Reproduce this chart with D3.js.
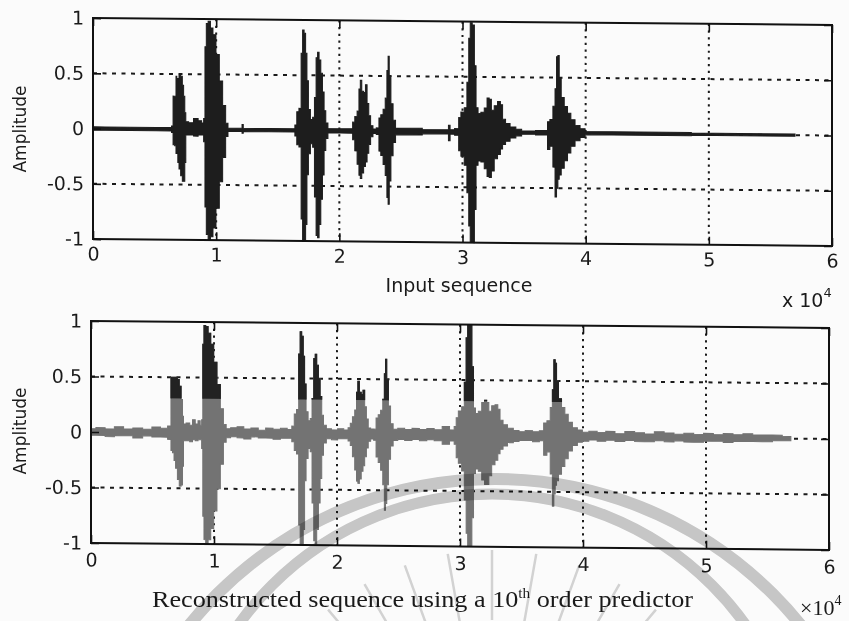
<!DOCTYPE html>
<html>
<head>
<meta charset="utf-8">
<script src="https://cdn.jsdelivr.net/npm/d3@7"></script>
<style>
  html, body { margin: 0; padding: 0; background: #fbfbfb; }
  svg { display: block; }
</style>
</head>
<body>
<svg id="chart" width="849" height="621"></svg>
<script>
// Input speech signal: envelope per sample index (upper / lower amplitude)
const inputSample = [0, 2000, 4000, 6300, 6450, 6550, 6710, 6765, 6845, 6930, 7035, 7200, 7305, 7410, 7495, 7575,
  7955, 8360, 8710, 8930, 9035, 9145, 9255, 9440, 9630, 9850, 10120, 10390, 10660, 10880, 11040,
  12050, 12150, 12250, 16300, 16480, 16610, 16830, 16965, 17070, 17210, 17315, 17425, 17555, 17750, 17915,
  18045, 18180, 18285, 18425, 18565, 18695, 18830, 18970, 19180, 21000, 21160, 21350, 21535, 21650, 21755,
  21890, 22055, 22185, 22320, 22460, 22620, 22840, 23160, 23270, 23460, 23645, 23805, 23920, 24000, 24105,
  24270, 24455, 24675, 28790, 28925, 29060, 29650, 29730, 30010, 30275, 30440, 30575, 30680, 30900, 31030,
  31170, 31355, 31630, 31900, 32085, 32250, 32440, 32710, 32980, 33175, 33335, 33660, 34065, 34600, 35005,
  36850, 36955, 37235, 37445, 37580, 37690, 37800, 37905, 38125, 38395, 38660, 38935, 39340, 39750, 40155, 57000];
const inputUpper = [0.015, 0.015, 0.015, 0.015, 0.03, 0.30, 0.30, 0.48, 0.32, 0.46, 0.49, 0.48, 0.40, 0.30, 0.15, 0.07,
  0.06, 0.10, 0.08, 0.06, 0.10, 0.75, 0.96, 0.98, 0.92, 0.86, 0.68, 0.44, 0.22, 0.06, 0.015,
  0.015, 0.05, 0.015, 0.015, 0.05, 0.17, 0.20, 0.70, 0.91, 0.88, 0.70, 0.45, 0.19, 0.10, 0.12,
  0.30, 0.66, 0.71, 0.64, 0.52, 0.35, 0.18, 0.07, 0.02, 0.02, 0.08, 0.13, 0.18, 0.38, 0.46,
  0.36, 0.35, 0.42, 0.25, 0.14, 0.05, 0.02, 0.03, 0.12, 0.15, 0.20, 0.30, 0.55, 0.68, 0.50,
  0.25, 0.10, 0.03, 0.02, 0.06, 0.02, 0.03, 0.13, 0.18, 0.22, 0.45, 0.85, 0.99, 0.97, 0.60,
  0.22, 0.17, 0.18, 0.22, 0.31, 0.30, 0.20, 0.24, 0.28, 0.25, 0.12, 0.08, 0.05, 0.03, 0.015,
  0.02, 0.10, 0.12, 0.24, 0.40, 0.69, 0.70, 0.50, 0.32, 0.24, 0.18, 0.12, 0.07, 0.04, 0.015, 0.01];
const inputLower = [-0.015, -0.015, -0.015, -0.015, -0.03, -0.14, -0.15, -0.22, -0.18, -0.30, -0.36, -0.42, -0.47, -0.47, -0.30, -0.05,
  -0.05, -0.06, -0.05, -0.05, -0.11, -0.70, -0.95, -1.00, -0.97, -0.89, -0.71, -0.47, -0.25, -0.06, -0.015,
  -0.015, -0.03, -0.015, -0.015, -0.05, -0.13, -0.15, -0.80, -1.00, -1.00, -0.85, -0.40, -0.21, -0.12, -0.15,
  -0.60, -0.95, -0.97, -0.85, -0.62, -0.40, -0.18, -0.07, -0.02, -0.02, -0.08, -0.18, -0.30, -0.40, -0.43,
  -0.38, -0.32, -0.28, -0.20, -0.12, -0.05, -0.02, -0.03, -0.18, -0.22, -0.30, -0.40, -0.60, -0.66, -0.45,
  -0.22, -0.10, -0.03, -0.02, -0.08, -0.02, -0.03, -0.17, -0.22, -0.30, -0.55, -0.85, -1.00, -1.00, -0.70,
  -0.30, -0.26, -0.27, -0.33, -0.40, -0.41, -0.35, -0.24, -0.20, -0.15, -0.11, -0.08, -0.05, -0.03, -0.015,
  -0.02, -0.15, -0.12, -0.31, -0.58, -0.50, -0.42, -0.38, -0.32, -0.25, -0.18, -0.12, -0.07, -0.04, -0.015, -0.01];

// Reconstructed signal (10th order predictor): envelope per sample index
const reconSample = [0, 800, 1500, 2300, 3000, 3800, 4600, 5300, 6000, 6450, 6550, 6700, 6800, 6950, 7100, 7250, 7400, 7480, 7560,
  7900, 8150, 8350, 8600, 8800, 8950, 9040, 9140, 9230, 9420, 9620, 9850, 10100, 10380, 10650, 10880,
  11100, 11600, 12150, 12700, 13300, 13900, 14500, 15100, 15700, 16200, 16450, 16600, 16820, 16950, 17060, 17200,
  17310, 17420, 17550, 17750, 17900, 18040, 18180, 18280, 18420, 18560, 18690, 18830, 18970, 19300, 19800, 20300,
  20800, 21000, 21160, 21350, 21530, 21640, 21750, 21890, 22050, 22180, 22320, 22460, 22620, 22850, 23100, 23250,
  23450, 23640, 23800, 23900, 23990, 24100, 24260, 24450, 24680, 25200, 25800, 26400, 27000, 27600, 28200, 28900,
  29400, 29650, 29730, 30000, 30270, 30430, 30570, 30680, 30900, 31030, 31170, 31350, 31630, 31900, 32090, 32250,
  32440, 32710, 32980, 33170, 33340, 33660, 34070, 34600, 35000, 35600, 36200, 36700, 36900, 37230, 37440, 37580,
  37680, 37800, 37900, 38120, 38390, 38660, 38940, 39340, 39750, 40150, 40800, 41500, 42200, 43000, 43800, 44600,
  45400, 46200, 47000, 47800, 48600, 49400, 50200, 51000, 51800, 52600, 53400, 54200, 55000, 55800, 56600, 56900];
const reconUpper = [0.03, 0.04, 0.03, 0.05, 0.03, 0.04, 0.03, 0.05, 0.04, 0.06, 0.50, 0.50, 0.50, 0.50, 0.48, 0.42, 0.30, 0.15, 0.08,
  0.09, 0.07, 0.12, 0.08, 0.11, 0.07, 0.12, 0.80, 0.97, 0.96, 0.90, 0.80, 0.64, 0.44, 0.22, 0.08,
  0.04, 0.05, 0.06, 0.04, 0.05, 0.03, 0.05, 0.04, 0.05, 0.04, 0.07, 0.18, 0.22, 0.72, 0.92, 0.88,
  0.70, 0.45, 0.20, 0.12, 0.14, 0.32, 0.68, 0.72, 0.62, 0.50, 0.34, 0.17, 0.08, 0.05, 0.04, 0.05,
  0.04, 0.06, 0.10, 0.16, 0.22, 0.38, 0.48, 0.38, 0.36, 0.40, 0.25, 0.14, 0.06, 0.05, 0.05, 0.15,
  0.18, 0.22, 0.32, 0.55, 0.68, 0.50, 0.26, 0.10, 0.05, 0.06, 0.05, 0.06, 0.05, 0.06, 0.05, 0.08,
  0.05, 0.08, 0.16, 0.22, 0.26, 0.48, 0.88, 1.00, 1.00, 0.62, 0.25, 0.20, 0.22, 0.30, 0.32, 0.30,
  0.22, 0.27, 0.28, 0.24, 0.14, 0.10, 0.07, 0.05, 0.04, 0.05, 0.04, 0.05, 0.12, 0.14, 0.26, 0.42,
  0.69, 0.66, 0.50, 0.34, 0.26, 0.20, 0.13, 0.08, 0.06, 0.04, 0.05, 0.04, 0.05, 0.03, 0.05, 0.04,
  0.03, 0.05, 0.04, 0.03, 0.04, 0.03, 0.04, 0.03, 0.04, 0.03, 0.04, 0.03, 0.03, 0.03, 0.02, 0.02];
const reconLower = [-0.03, -0.03, -0.04, -0.03, -0.03, -0.05, -0.03, -0.04, -0.04, -0.06, -0.16, -0.18, -0.25, -0.32, -0.42, -0.48, -0.47, -0.30, -0.07,
  -0.07, -0.08, -0.06, -0.07, -0.06, -0.06, -0.14, -0.75, -0.96, -1.00, -0.96, -0.86, -0.70, -0.50, -0.28, -0.08,
  -0.04, -0.03, -0.04, -0.05, -0.03, -0.04, -0.04, -0.05, -0.04, -0.04, -0.07, -0.15, -0.18, -0.82, -1.00, -1.00,
  -0.86, -0.42, -0.22, -0.13, -0.16, -0.62, -0.96, -0.99, -0.86, -0.62, -0.40, -0.19, -0.08, -0.04, -0.05, -0.04,
  -0.04, -0.06, -0.10, -0.20, -0.32, -0.42, -0.44, -0.40, -0.33, -0.28, -0.20, -0.12, -0.06, -0.04, -0.05, -0.20,
  -0.25, -0.32, -0.45, -0.68, -0.62, -0.45, -0.22, -0.10, -0.05, -0.04, -0.05, -0.04, -0.05, -0.04, -0.05, -0.08,
  -0.05, -0.08, -0.20, -0.25, -0.32, -0.58, -0.88, -1.00, -1.00, -0.74, -0.34, -0.30, -0.32, -0.40, -0.44, -0.44,
  -0.36, -0.26, -0.22, -0.16, -0.12, -0.09, -0.06, -0.05, -0.04, -0.04, -0.05, -0.04, -0.17, -0.14, -0.34, -0.63,
  -0.52, -0.44, -0.40, -0.34, -0.27, -0.20, -0.13, -0.08, -0.05, -0.04, -0.03, -0.04, -0.03, -0.04, -0.03, -0.04,
  -0.04, -0.03, -0.04, -0.03, -0.04, -0.04, -0.03, -0.03, -0.04, -0.03, -0.03, -0.03, -0.03, -0.02, -0.02, -0.02];

const xTickValues = [0, 10000, 20000, 30000, 40000, 50000, 60000];
const xTickLabels = ["0", "1", "2", "3", "4", "5", "6"];
const yTickValues = [-1, -0.5, 0, 0.5, 1];
const yTickLabels = ["-1", "-0.5", "0", "0.5", "1"];
const yGridValues = [-0.5, 0, 0.5];
const xGridValues = [10000, 20000, 30000, 40000, 50000];

const svg = d3.select("#chart");
const sansFont = "'DejaVu Sans', sans-serif";
const serifFont = "'Liberation Serif', 'Times New Roman', serif";

// The whole drawing sits on a slightly tilted page
const tilt = Math.atan(7 / 739) * 180 / Math.PI;
const page = svg.append("g").attr("transform", `translate(92,0) skewY(${tilt}) translate(-92,0)`);

const panels = [
  { left: 93, top: 18, width: 739, height: 221, sample: inputSample, upper: inputUpper, lower: inputLower,
    color: "#1d1d1d", labelPad: 8, split: null },
  { left: 91, top: 321, width: 738, height: 222, sample: reconSample, upper: reconUpper, lower: reconLower,
    color: "#737373", labelPad: 10, split: 0.31 }
];

panels.forEach((p, i) => {
  const x = d3.scaleLinear().domain([0, 60000]).range([p.left, p.left + p.width]);
  const y = d3.scaleLinear().domain([-1, 1]).range([p.top + p.height, p.top]);
  const g = page.append("g");

  // grid
  g.append("g").selectAll("line").data(yGridValues).join("line")
    .attr("x1", x(0)).attr("x2", x(60000))
    .attr("y1", d => y(d)).attr("y2", d => y(d))
    .attr("stroke", "#1a1a1a").attr("stroke-width", 2).attr("stroke-dasharray", "4,5.5");
  g.append("g").selectAll("line").data(xGridValues).join("line")
    .attr("x1", d => x(d)).attr("x2", d => x(d))
    .attr("y1", y(1)).attr("y2", y(-1))
    .attr("stroke", "#1a1a1a").attr("stroke-width", 2).attr("stroke-dasharray", "2.2,4.5");

  // signal envelope, drawn as sample-and-hold columns
  const env = p.sample.map((s, k) => ({ s, hi: p.upper[k], lo: p.lower[k] }));
  const area = d3.area().curve(d3.curveStep)
    .x(d => x(d.s)).y0(d => y(d.lo)).y1(d => y(d.hi));
  g.append("path").datum(env).attr("d", area)
    .attr("fill", p.color).attr("stroke", p.color).attr("stroke-width", 1);

  if (p.split !== null) {
    const clipId = "upper-band-" + i;
    g.append("clipPath").attr("id", clipId).append("rect")
      .attr("x", x(0)).attr("y", y(1) - 2).attr("width", p.width).attr("height", y(p.split) - y(1) + 2);
    g.append("path").datum(env).attr("d", area).attr("clip-path", `url(#${clipId})`)
      .attr("fill", "#222").attr("stroke", "#222").attr("stroke-width", 1);
  }

  // axes: ticks point inward on all four sides
  const fmtX = d => xTickLabels[xTickValues.indexOf(d)];
  const fmtY = d => yTickLabels[yTickValues.indexOf(d)];
  const bottom = g.append("g").attr("transform", `translate(0,${y(-1)})`)
    .call(d3.axisBottom(x).tickValues(xTickValues).tickFormat(fmtX).tickSizeInner(-8).tickSizeOuter(0).tickPadding(p.labelPad));
  const top = g.append("g").attr("transform", `translate(0,${y(1)})`)
    .call(d3.axisTop(x).tickValues(xTickValues).tickFormat("").tickSizeInner(-8).tickSizeOuter(0));
  const leftAx = g.append("g").attr("transform", `translate(${x(0)},0)`)
    .call(d3.axisLeft(y).tickValues(yTickValues).tickFormat(fmtY).tickSizeInner(-8).tickSizeOuter(0).tickPadding(9));
  const rightAx = g.append("g").attr("transform", `translate(${x(60000)},0)`)
    .call(d3.axisRight(y).tickValues(yTickValues).tickFormat("").tickSizeInner(-8).tickSizeOuter(0));
  [bottom, top, leftAx, rightAx].forEach(a => {
    a.select(".domain").remove();
    a.selectAll(".tick line").attr("stroke", "#111").attr("stroke-width", 1.6);
    a.selectAll("text").attr("fill", "#1a1a1a").style("font-family", sansFont).style("font-size", "19px");
  });

  // axes box
  g.append("rect").attr("x", x(0)).attr("y", y(1)).attr("width", p.width).attr("height", p.height)
    .attr("fill", "none").attr("stroke", "#111").attr("stroke-width", 2);
});

// axis titles
const titles = svg.append("g").attr("fill", "#1a1a1a");
[129, 431].forEach(cy => {
  titles.append("text").attr("transform", `translate(26,${cy}) rotate(-90)`)
    .attr("text-anchor", "middle").style("font-family", sansFont).style("font-size", "17px")
    .text("Amplitude");
});
titles.append("text").attr("x", 459).attr("y", 292).attr("text-anchor", "middle")
  .style("font-family", sansFont).style("font-size", "19px").text("Input sequence");

const exp1 = titles.append("text").attr("x", 782).attr("y", 307)
  .style("font-family", sansFont).style("font-size", "19px");
exp1.append("tspan").text("x 10");
exp1.append("tspan").attr("dy", -10).style("font-size", "13px").text("4");

const cap = titles.append("text").attr("x", 152).attr("y", 607)
  .attr("textLength", 541).attr("lengthAdjust", "spacingAndGlyphs")
  .style("font-family", serifFont).style("font-size", "24px");
cap.append("tspan").text("Reconstructed sequence using a 10");
cap.append("tspan").attr("dy", -9).style("font-size", "14px").text("th");
cap.append("tspan").attr("dy", 9).text(" order predictor");

const exp2 = titles.append("text").attr("x", 800).attr("y", 615)
  .style("font-family", serifFont).style("font-size", "22px");
exp2.append("tspan").text("×10");
exp2.append("tspan").attr("dy", -10).style("font-size", "14px").text("4");

// faint seal printed behind the lower panel
const seal = svg.append("g").style("mix-blend-mode", "multiply").attr("fill", "none").attr("stroke", "#c9c9c9");
seal.append("circle").attr("cx", 495).attr("cy", 872).attr("r", 393).attr("stroke-width", 12);
seal.append("circle").attr("cx", 492).attr("cy", 805).attr("r", 311).attr("stroke-width", 11);
d3.range(-150, -25, 10).forEach(a => {
  const r = a * Math.PI / 180;
  seal.append("line")
    .attr("x1", 492 + 185 * Math.cos(r)).attr("y1", 805 + 185 * Math.sin(r))
    .attr("x2", 492 + 255 * Math.cos(r)).attr("y2", 805 + 255 * Math.sin(r))
    .attr("stroke", "#d6d6d6").attr("stroke-width", 2.5);
});
</script>
</body>
</html>
